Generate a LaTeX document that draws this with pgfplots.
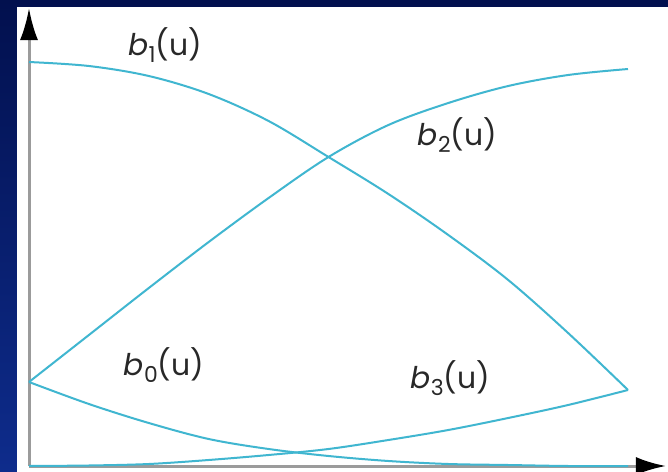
\documentclass[border=0pt]{standalone}
\usepackage{pgfplots}
\pgfplotsset{compat=1.18}
\usepackage{fontspec}
\setmainfont{Poppins}
\usetikzlibrary{arrows.meta}
\definecolor{curve}{RGB}{64,182,208}
\definecolor{navyTop}{RGB}{2,16,78}
\definecolor{navyBot}{RGB}{14,44,140}
\definecolor{axgray}{RGB}{155,155,155}
\definecolor{lbl}{RGB}{40,40,40}
\newcommand{\lab}[1]{\textcolor{lbl}{\fontsize{15}{17}\selectfont\textit{b}\kern0.2bp\raisebox{-3.5bp}{\fontsize{11}{11}\selectfont #1}(u)}}
\begin{document}
\begin{tikzpicture}[x=1bp,y=1bp]
\path[use as bounding box] (0,0) rectangle (334,236);
\shade[top color=navyTop, bottom color=navyBot] (0,0) rectangle (334,236);
\fill[white] (8.5,0) rectangle (334,232.5);
\begin{axis}[
  at={(14.5bp,3bp)}, anchor=origin,
  x=299.5bp, y=0.5bp,
  xmin=0, xmax=1.0634, ymin=0, ymax=458,
  axis x line=bottom, axis y line=left,
  xtick=\empty, ytick=\empty,
  axis line style={axgray, line width=1.5bp},
  x axis line style={-{Latex[black,length=15bp,width=9bp]}},
  y axis line style={-{Latex[black,length=16bp,width=9bp]}},
  clip=false,
]
% b1(u)
\addplot[curve, line width=1bp, smooth, tension=0.55] coordinates {(0,404) (0.1,400) (0.2,390) (0.3,372) (0.4,345) (0.5,309) (0.6,272) (0.7,231) (0.8,186) (0.9,133) (1,76)};
% b2(u)
\addplot[curve, line width=1bp, smooth, tension=0.55] coordinates {(0,84) (0.1,131) (0.2,178) (0.3,224) (0.4,268) (0.5,309) (0.6,341) (0.7,363) (0.8,380) (0.9,391) (1,397)};
% b0(u)
\addplot[curve, line width=1bp, smooth, tension=0.55] coordinates {(0,84) (0.1,62) (0.2,43) (0.3,27) (0.4,17) (0.5,10) (0.6,5) (0.7,2) (0.8,1) (0.9,0) (1,0)};
% b3(u)
\addplot[curve, line width=1bp, smooth, tension=0.55] coordinates {(0,0) (0.1,0.5) (0.2,2) (0.3,6) (0.4,11) (0.5,17) (0.6,26) (0.7,36) (0.8,48) (0.9,61) (1,76)};
\node at (axis cs:0.227,421) {\lab{1}};
\node at (axis cs:0.715,331) {\lab{2}};
\node at (axis cs:0.225,101) {\lab{0}};
\node at (axis cs:0.703,88) {\lab{3}};
\end{axis}
\end{tikzpicture}
\end{document}
